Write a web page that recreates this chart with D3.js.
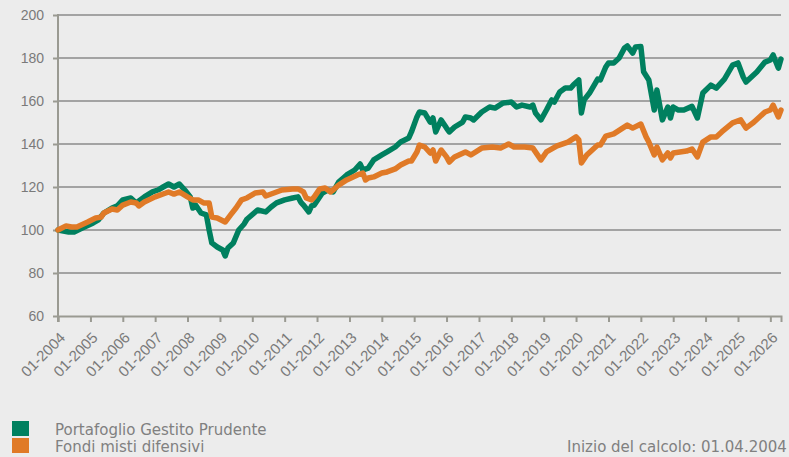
<!DOCTYPE html>
<html>
<head>
<meta charset="utf-8">
<script src="https://cdn.jsdelivr.net/npm/d3@7"></script>
<style>
    body { margin: 0; background: #ececec; }
    svg { display: block; font-family: "DejaVu Sans", Verdana, sans-serif; }
    .tick text { fill: #7a7a7a; }
</style>
</head>
<body>
<div id="chart"></div>
<script>
// series: [month, index value]
const prudente = [
    ["2004-01", 100], ["2004-05", 99.1], ["2004-07", 99.1], ["2004-10", 100.9], ["2005-02", 103.3],
    ["2005-04", 104.7], ["2005-06", 107.9], ["2005-09", 110.2], ["2005-11", 111.2], ["2006-01", 114.0],
    ["2006-04", 114.9], ["2006-06", 112.6], ["2006-09", 115.4], ["2006-12", 117.7], ["2007-02", 118.6],
    ["2007-04", 120.0], ["2007-06", 121.4], ["2007-08", 120.0], ["2007-10", 121.4], ["2007-12", 118.6],
    ["2008-02", 115.4], ["2008-03", 110.2], ["2008-04", 111.6], ["2008-06", 107.9], ["2008-08", 107.0],
    ["2008-09", 100.0], ["2008-10", 94.0], ["2008-12", 92.1], ["2009-02", 90.7], ["2009-03", 87.9],
    ["2009-04", 91.6], ["2009-06", 94.0], ["2009-08", 100.0], ["2009-10", 102.8], ["2009-11", 105.0],
    ["2010-03", 109.3], ["2010-06", 108.4], ["2010-08", 110.7], ["2010-10", 112.6], ["2011-01", 114.0],
    ["2011-04", 114.9], ["2011-06", 115.4], ["2011-07", 113.0], ["2011-08", 111.6], ["2011-10", 108.4],
    ["2011-11", 111.2], ["2011-12", 111.6], ["2012-03", 117.2], ["2012-05", 118.6], ["2012-07", 117.7],
    ["2012-09", 122.3], ["2012-12", 125.6], ["2013-03", 127.9], ["2013-05", 130.7], ["2013-06", 127.9],
    ["2013-08", 128.8], ["2013-10", 132.6], ["2014-01", 134.9], ["2014-03", 136.3], ["2014-06", 138.6],
    ["2014-08", 140.9], ["2014-11", 142.8], ["2014-12", 145.6], ["2015-02", 152.6], ["2015-03", 154.9],
    ["2015-05", 154.4], ["2015-07", 150.2], ["2015-08", 152.1], ["2015-09", 145.6], ["2015-11", 151.2],
    ["2016-01", 147.4], ["2016-02", 145.6], ["2016-04", 147.9], ["2016-07", 150.2], ["2016-08", 152.6],
    ["2016-10", 152.1], ["2016-11", 151.2], ["2017-02", 154.9], ["2017-05", 157.2], ["2017-07", 156.7],
    ["2017-10", 159.1], ["2018-01", 159.5], ["2018-03", 157.2], ["2018-05", 158.1], ["2018-08", 157.2],
    ["2018-09", 158.1], ["2018-10", 154.4], ["2018-12", 151.2], ["2019-02", 155.8], ["2019-04", 160.5],
    ["2019-05", 159.5], ["2019-07", 164.2], ["2019-09", 166.0], ["2019-11", 166.0], ["2019-12", 167.4],
    ["2020-02", 169.8], ["2020-03", 154.4], ["2020-04", 160.5], ["2020-06", 163.7], ["2020-09", 170.2],
    ["2020-10", 169.8], ["2020-12", 175.8], ["2021-01", 177.7], ["2021-03", 177.7], ["2021-05", 180.0],
    ["2021-07", 184.7], ["2021-08", 185.6], ["2021-10", 182.3], ["2021-11", 185.1], ["2022-01", 185.3],
    ["2022-02", 173.6], ["2022-04", 169.8], ["2022-06", 155.8], ["2022-07", 165.1], ["2022-09", 151.2],
    ["2022-11", 157.2], ["2022-12", 152.1], ["2023-01", 157.2], ["2023-03", 155.8], ["2023-05", 155.8],
    ["2023-08", 157.5], ["2023-10", 152.1], ["2023-12", 163.7], ["2024-03", 167.4], ["2024-05", 166.0],
    ["2024-08", 170.2], ["2024-11", 176.7], ["2025-01", 177.7], ["2025-03", 171.2], ["2025-04", 168.8],
    ["2025-06", 171.2], ["2025-08", 173.5], ["2025-11", 178.1], ["2026-01", 179.1], ["2026-02", 181.4],
    ["2026-04", 175.3], ["2026-05", 179.5]
];
const difensivi = [
    ["2004-01", 100], ["2004-04", 101.9], ["2004-06", 101.4], ["2004-08", 101.4], ["2004-12", 103.7],
    ["2005-03", 105.6], ["2005-05", 106.0], ["2005-06", 107.9], ["2005-09", 109.8], ["2005-11", 109.3],
    ["2006-01", 111.6], ["2006-04", 113.0], ["2006-06", 112.6], ["2006-07", 111.2], ["2006-09", 113.0],
    ["2007-01", 115.4], ["2007-05", 117.2], ["2007-06", 117.7], ["2007-08", 116.7], ["2007-10", 117.7],
    ["2008-01", 115.4], ["2008-03", 114.0], ["2008-05", 114.0], ["2008-07", 112.6], ["2008-09", 112.6],
    ["2008-10", 106.0], ["2008-12", 105.6], ["2009-03", 103.7], ["2009-05", 107.0], ["2009-07", 110.2],
    ["2009-09", 114.0], ["2009-11", 114.9], ["2010-02", 117.2], ["2010-05", 117.7], ["2010-06", 115.8],
    ["2010-09", 117.2], ["2010-12", 118.6], ["2011-04", 119.1], ["2011-06", 119.1], ["2011-08", 117.7],
    ["2011-09", 114.9], ["2011-11", 114.0], ["2011-12", 115.4], ["2012-02", 119.1], ["2012-04", 119.5],
    ["2012-06", 117.7], ["2012-07", 118.6], ["2012-09", 120.9], ["2012-12", 123.3], ["2013-04", 125.6],
    ["2013-06", 126.5], ["2013-07", 123.3], ["2013-08", 124.2], ["2013-10", 124.7], ["2014-01", 126.5],
    ["2014-03", 127.0], ["2014-06", 128.4], ["2014-08", 130.2], ["2014-11", 132.1], ["2014-12", 132.1],
    ["2015-02", 136.3], ["2015-03", 139.5], ["2015-05", 138.6], ["2015-07", 135.8], ["2015-08", 137.2],
    ["2015-09", 132.1], ["2015-11", 137.2], ["2016-01", 134.0], ["2016-02", 131.6], ["2016-04", 134.0],
    ["2016-08", 136.3], ["2016-10", 134.9], ["2017-02", 138.1], ["2017-06", 138.6], ["2017-09", 138.1],
    ["2017-12", 140.0], ["2018-02", 138.6], ["2018-06", 138.6], ["2018-09", 138.1], ["2018-12", 132.6],
    ["2019-02", 136.3], ["2019-06", 139.1], ["2019-10", 140.9], ["2020-01", 143.3], ["2020-02", 141.9],
    ["2020-03", 131.2], ["2020-05", 134.9], ["2020-09", 139.5], ["2020-10", 139.5], ["2020-12", 143.7],
    ["2021-03", 144.7], ["2021-08", 148.8], ["2021-10", 147.4], ["2022-01", 149.3], ["2022-03", 143.3],
    ["2022-04", 140.9], ["2022-06", 134.9], ["2022-07", 138.6], ["2022-09", 132.6], ["2022-11", 135.8],
    ["2022-12", 133.5], ["2023-01", 135.8], ["2023-06", 136.7], ["2023-08", 137.7], ["2023-10", 134.0],
    ["2023-12", 140.9], ["2024-03", 143.3], ["2024-05", 143.3], ["2024-07", 145.6], ["2024-11", 149.8],
    ["2025-02", 151.2], ["2025-04", 147.4], ["2025-07", 150.2], ["2025-11", 154.9], ["2026-01", 155.8],
    ["2026-02", 158.1], ["2026-04", 152.6], ["2026-05", 155.8]
];
const seriesNames = ["Portafoglio Gestito Prudente", "Fondi misti difensivi"];
const seriesColors = ["#00805f", "#e07a27"];
const yTicks = [60, 80, 100, 120, 140, 160, 180, 200];
const startNote = "Inizio del calcolo: 01.04.2004";

const W = 789, H = 457;
const margin = {top: 15, right: 8, bottom: 141, left: 58};
const width = W - margin.left - margin.right,
    height = H - margin.top - margin.bottom;

const parseMonth = d3.timeParse("%Y-%m");

const xScale = d3.scaleTime()
    .domain([parseMonth("2004-01"), parseMonth("2026-05")])
    .range([0, width]);
const yScale = d3.scaleLinear().domain([60, 200]).range([height, 0]);

const svg0 = d3.select("#chart").append("svg")
    .attr("width", W)
    .attr("height", H);
const svg = svg0.append("g")
    .attr("transform", "translate(" + margin.left + "," + margin.top + ")");

// horizontal grid
svg.append("g")
    .selectAll("line")
    .data(yTicks.slice(1))
    .enter().append("line")
    .attr("x1", 0).attr("x2", width)
    .attr("y1", d => yScale(d)).attr("y2", d => yScale(d))
    .attr("stroke", "#a3a3a3")
    .attr("stroke-width", 2);

// y axis
const yAxis = svg.append("g")
    .call(d3.axisLeft(yScale).tickValues(yTicks).tickSize(5).tickPadding(9));
yAxis.selectAll("text").attr("font-size", 14);

// x axis
const xAxis = svg.append("g")
    .attr("transform", "translate(0," + height + ")")
    .call(d3.axisBottom(xScale)
        .ticks(d3.timeYear.every(1))
        .tickFormat(d3.timeFormat("%m-%Y"))
        .tickSize(6));
xAxis.selectAll("text")
    .attr("font-size", 15)
    .attr("text-anchor", "end")
    .attr("y", 0)
    .attr("dy", "0.35em")
    .attr("transform", "translate(4,19) rotate(-45)");

svg.selectAll(".domain, .tick line")
    .attr("stroke", "#9a9a92")
    .attr("stroke-width", 2);
yAxis.select(".domain").attr("d", "M0,-1V" + (height + 6));

const line = d3.line()
    .x(d => xScale(parseMonth(d[0])))
    .y(d => yScale(d[1]));

[prudente, difensivi].forEach((s, i) => {
    svg.append("path")
        .datum(s)
        .attr("fill", "none")
        .attr("stroke", seriesColors[i])
        .attr("stroke-width", 5.5)
        .attr("stroke-linejoin", "round")
        .attr("stroke-linecap", "round")
        .attr("d", line);
});

// legend
const legend = svg0.append("g").attr("font-size", 15).attr("fill", "#808080");
seriesNames.forEach((name, i) => {
    legend.append("rect")
        .attr("x", 12).attr("y", 421 + i * 17)
        .attr("width", 17).attr("height", 15)
        .attr("fill", seriesColors[i]);
    legend.append("text")
        .attr("x", 55).attr("y", 435 + i * 17)
        .text(name);
});
legend.append("text")
    .attr("x", 567).attr("y", 452)
    .text(startNote);
</script>
</body>
</html>
